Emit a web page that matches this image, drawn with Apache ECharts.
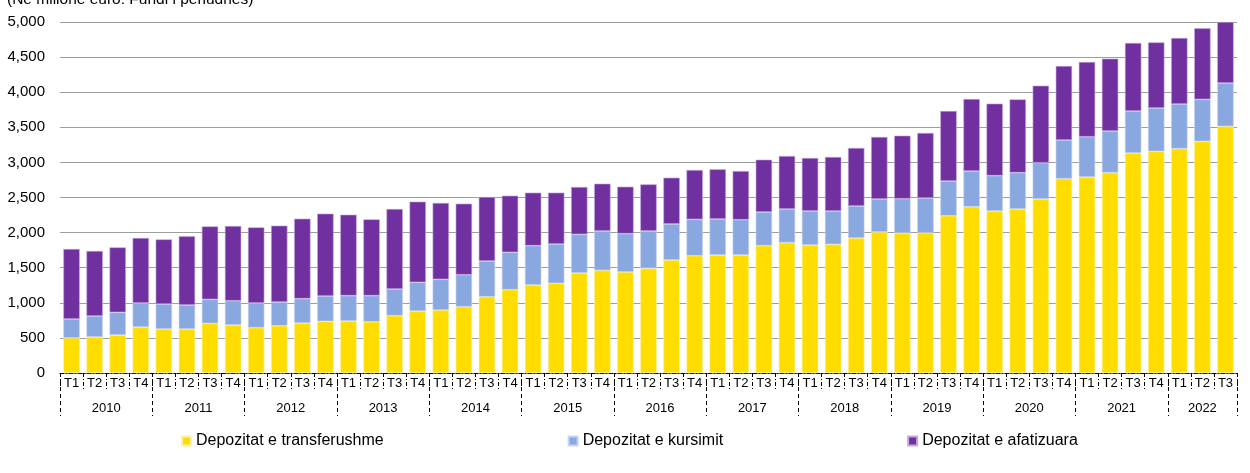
<!DOCTYPE html>
<html>
<head>
<meta charset="utf-8">
<script src="https://cdn.jsdelivr.net/npm/echarts@6/dist/echarts.min.js"></script>
<style>
  html, body { margin: 0; padding: 0; background: #fff; }
  #myChart { width: 1250px; height: 473px; }
</style>
</head>
<body>
<div id="myChart"></div>
<script>
// tremujoret 2010 T1 - 2022 T3
const years = [2010, 2011, 2012, 2013, 2014, 2015, 2016, 2017, 2018, 2019, 2020, 2021, 2022];
const quarters = [];
years.forEach(y => ['T1', 'T2', 'T3', 'T4'].forEach(q => {
  if (!(y === 2022 && q === 'T4')) quarters.push(q);
}));

const transferushme = [500, 513, 541, 655, 627, 627, 707, 684, 646, 674, 712, 736, 741, 731, 817, 883,
  897, 945, 1087, 1187, 1254, 1278, 1425, 1463, 1439, 1491, 1610, 1671, 1681, 1681, 1814, 1857,
  1823, 1833, 1923, 2009, 1994, 1999, 2241, 2369, 2308, 2336, 2479, 2768, 2792, 2854, 3134, 3158,
  3196, 3300, 3514];
const kursimit = [270, 299, 323, 342, 356, 342, 342, 346, 351, 337, 347, 361, 361, 371, 380, 409,
  437, 455, 508, 532, 560, 560, 550, 560, 546, 532, 513, 518, 513, 503, 479, 479,
  485, 475, 456, 470, 489, 494, 494, 508, 503, 518, 517, 551, 574, 593, 598, 617,
  636, 598, 617];
const afatizuara = [996, 926, 926, 926, 921, 978, 1040, 1064, 1078, 1088, 1139, 1173, 1153, 1087, 1139, 1149,
  1088, 1012, 912, 807, 755, 731, 675, 674, 669, 664, 659, 703, 708, 693, 746, 755,
  755, 769, 826, 883, 898, 926, 997, 1026, 1026, 1044, 1097, 1054, 1064, 1031, 969, 935,
  940, 1012, 869];

const yTicks = [0, 500, 1000, 1500, 2000, 2500, 3000, 3500, 4000, 4500, 5000];

// kufijte e viteve dhe qendrat e etiketave
const yearBounds = [];
const yearCenters = [];
for (let i = 0; i < years.length; i++) {
  yearBounds.push(i * 4);
  yearCenters.push(Math.min(i * 4 + 2, (i * 4 + quarters.length) / 2));
}
yearBounds.push(quarters.length);

const colors = ['#FFDD00', '#8AA8E0', '#7030A0'];
const font = 'Liberation Sans, Arial, sans-serif';
const dash = [4, 2, 1, 2];

let option = {
  animation: false,
  color: colors,
  textStyle: { fontFamily: font },
  title: {
    text: '(Në milionë euro: Fundi i periudhës)',
    left: 2,
    top: -13,
    textStyle: { fontSize: 15.5, fontWeight: 'normal', color: '#000', fontFamily: font }
  },
  grid: { left: 60, right: 13, top: 22, bottom: 100 },
  legend: {
    top: 428,
    left: 176,
    itemGap: 184,
    itemWidth: 9,
    itemHeight: 9,
    icon: 'rect',
    textStyle: { fontSize: 16, color: '#000', fontFamily: font },
    data: ['Depozitat e transferushme', 'Depozitat e kursimit', 'Depozitat e afatizuara']
  },
  xAxis: [
    {
      type: 'category',
      data: quarters,
      position: 'bottom',
      axisLine: { lineStyle: { color: '#000', type: dash, width: 1 } },
      axisTick: { show: true, interval: 0, length: 17, lineStyle: { color: '#000', type: dash } },
      axisLabel: { interval: 0, margin: 4, fontSize: 13, color: '#000', fontFamily: font }
    },
    {
      type: 'value',
      position: 'bottom',
      min: 0,
      max: quarters.length,
      splitLine: { show: false },
      axisLine: { show: false },
      axisTick: {
        show: true,
        customValues: yearBounds,
        length: 43,
        lineStyle: { color: '#000', type: [4, 3] }
      },
      axisLabel: {
        customValues: yearCenters,
        margin: 29,
        fontSize: 13,
        color: '#000',
        fontFamily: font,
        formatter: v => String(years[Math.floor(v / 4)])
      }
    }
  ],
  yAxis: {
    type: 'value',
    min: 0,
    max: 5000,
    interval: 500,
    axisLine: { show: false },
    axisTick: { show: false },
    splitLine: { lineStyle: { color: '#9e9e9e', width: 1.2 } },
    axisLabel: {
      margin: 15,
      fontSize: 15,
      color: '#000',
      fontFamily: font,
      formatter: v => v.toLocaleString('en-US')
    }
  },
  series: [
    {
      name: 'Depozitat e transferushme',
      type: 'bar',
      stack: 'total',
      barWidth: '71%',
      itemStyle: { color: colors[0], borderColor: '#fff2a0', borderWidth: 0.6 },
      data: transferushme
    },
    {
      name: 'Depozitat e kursimit',
      type: 'bar',
      stack: 'total',
      itemStyle: { color: colors[1], borderColor: '#c6d4f0', borderWidth: 0.6 },
      data: kursimit
    },
    {
      name: 'Depozitat e afatizuara',
      type: 'bar',
      stack: 'total',
      itemStyle: { color: colors[2], borderColor: '#c4a8dc', borderWidth: 0.6 },
      data: afatizuara
    }
  ]
};

let myChart = echarts.init(document.getElementById('myChart'));
myChart.setOption(option);
</script>
</body>
</html>
